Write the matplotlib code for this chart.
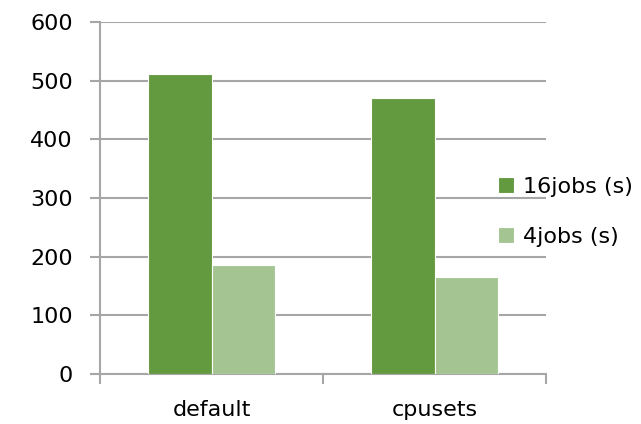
import matplotlib
matplotlib.use("Agg")
import matplotlib.pyplot as plt
import numpy as np

categories = ["default", "cpusets"]
series_names = ["16jobs (s)", "4jobs (s)"]
jobs16 = [511, 470]
jobs4 = [185, 166]
yticks = [0, 100, 200, 300, 400, 500, 600]

colors = ["#639A3F", "#A4C591"]
grid_color = "#A6A6A6"

plt.rcParams['font.family'] = ['DejaVu Sans']

fig = plt.figure(figsize=(6.41, 4.24), dpi=100)
ax = fig.add_axes([0.156, 0.118, 0.696, 0.830])

x = np.arange(len(categories))
w = 0.285
b1 = ax.bar(x - w / 2, jobs16, w, color=colors[0], edgecolor="white", linewidth=0.8,
            label=series_names[0], zorder=3)
b2 = ax.bar(x + w / 2, jobs4, w, color=colors[1], edgecolor="white", linewidth=0.8,
            label=series_names[1], zorder=3)

ax.set_xlim(-0.5, 1.5)
ax.set_ylim(0, 600)
ax.set_yticks(yticks)
ax.yaxis.grid(True, color=grid_color, linewidth=1.5, zorder=0)
ax.set_axisbelow(True)

# category boundary ticks, labels centered between them
ax.set_xticks([-0.5, 0.5, 1.5])
ax.set_xticklabels([])
ax.set_xticks(x, minor=True)
ax.set_xticklabels(categories, minor=True, fontsize=16)
ax.tick_params(axis="x", which="major", length=7, width=1.5, color=grid_color)
ax.tick_params(axis="x", which="minor", length=0, pad=19)
ax.tick_params(axis="y", length=7.5, width=1.5, color=grid_color, pad=12, labelsize=16)

for s in ["top", "right"]:
    ax.spines[s].set_visible(False)
for s in ["left", "bottom"]:
    ax.spines[s].set_color(grid_color)
    ax.spines[s].set_linewidth(1.5)

fig.legend(handles=[b1, b2], loc="center left", bbox_to_anchor=(0.746, 0.5),
           frameon=False, fontsize=16, handlelength=0.7, handleheight=0.7,
           handletextpad=0.4, labelspacing=1.35)

fig.savefig("out.png", dpi=100)
